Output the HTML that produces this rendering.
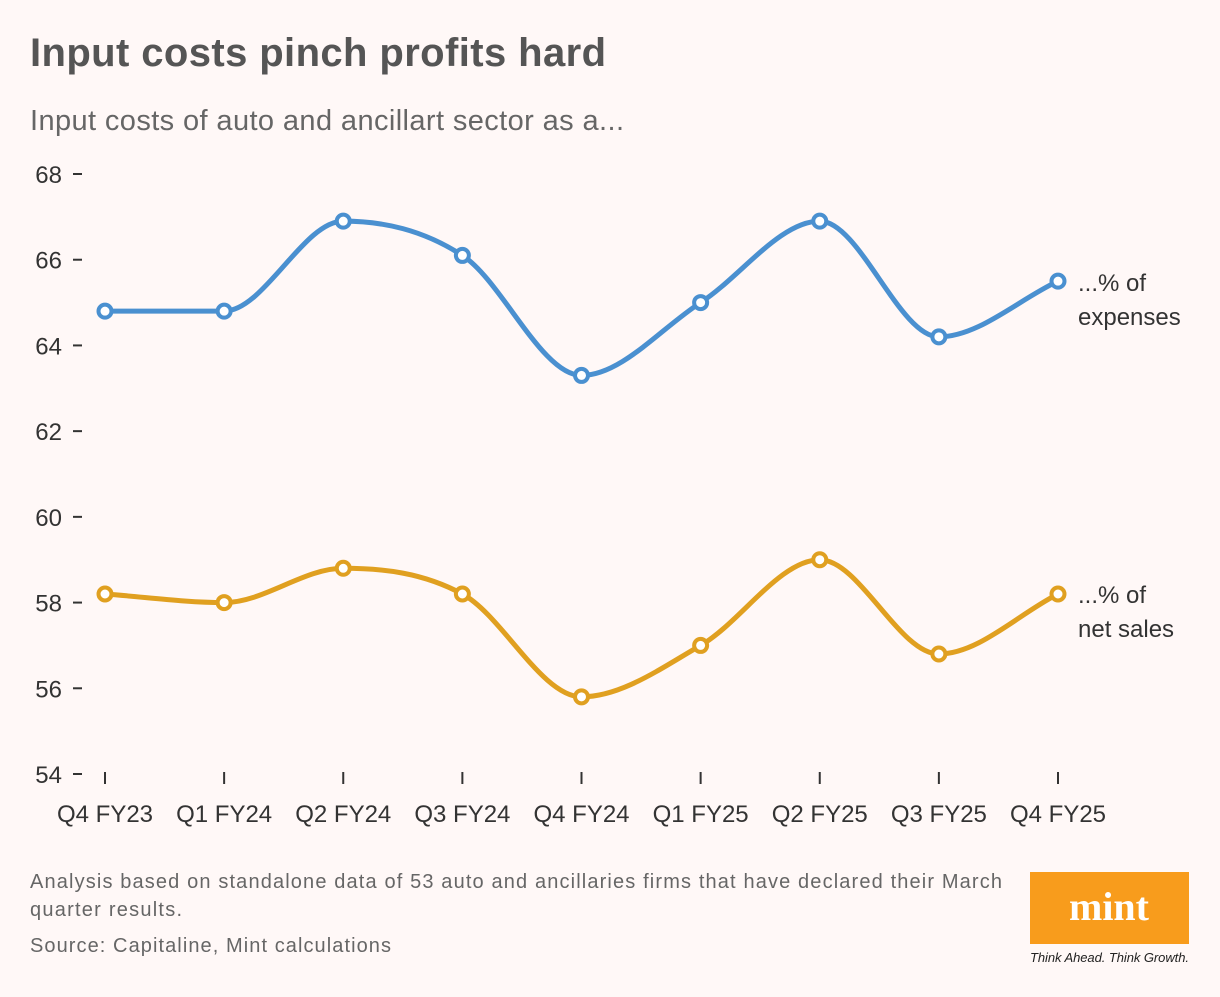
<!DOCTYPE html>
<html><head><meta charset="utf-8">
<style>
body{margin:0;background:#fff8f7;width:1220px;height:992px;overflow:hidden;font-family:"Liberation Sans",sans-serif;}
</style></head>
<body>
<svg width="1220" height="992" xmlns="http://www.w3.org/2000/svg">
<rect width="1220" height="992" fill="#fff8f7"/>
<text x="30" y="66" font-size="40" font-weight="bold" fill="#555" textLength="576">Input costs pinch profits hard</text>
<text x="30" y="130" font-size="29" fill="#666" textLength="594">Input costs of auto and ancillart sector as a...</text>
<g id="axes"></g>
<g id="series"></g>
<text x="1078" y="291" font-size="24" fill="#333">...% of</text>
<text x="1078" y="325" font-size="24" fill="#333">expenses</text>
<text x="1078" y="603" font-size="24" fill="#333">...% of</text>
<text x="1078" y="637" font-size="24" fill="#333">net sales</text>
<text x="30" y="888" font-size="20" fill="#666" textLength="972">Analysis based on standalone data of 53 auto and ancillaries firms that have declared their March</text>
<text x="30" y="916" font-size="20" fill="#666" textLength="152">quarter results.</text>
<text x="30" y="952" font-size="20" fill="#666" textLength="361">Source: Capitaline, Mint calculations</text>
<rect x="1030" y="872" width="159" height="72" fill="#f89c1c"/>
<text x="1109" y="920" font-size="40" font-weight="bold" font-family="Liberation Serif,serif" fill="#fff" text-anchor="middle">mint</text>
<text x="1030" y="962" font-size="13" font-style="italic" fill="#222" textLength="159">Think Ahead. Think Growth.</text>
</svg>
<script>
const categories=["Q4 FY23","Q1 FY24","Q2 FY24","Q3 FY24","Q4 FY24","Q1 FY25","Q2 FY25","Q3 FY25","Q4 FY25"];
const expenses=[64.8,64.8,66.9,66.1,63.3,65.0,66.9,64.2,65.5];
const netSales=[58.2,58.0,58.8,58.2,55.8,57.0,59.0,56.8,58.2];
const yTicks=[54,56,58,60,62,64,66,68];
const NS="http://www.w3.org/2000/svg";
function xS(i){return 105+i*(1058-105)/(categories.length-1);}
function yS(v){return 774-(v-54)*600/14;}
function mk(tag,attrs,parent){const e=document.createElementNS(NS,tag);for(const k in attrs)e.setAttribute(k,attrs[k]);parent.appendChild(e);return e;}
const axes=document.getElementById('axes'),ser=document.getElementById('series');
yTicks.forEach(t=>{
  const tx=mk('text',{x:62,y:yS(t)+9,'font-size':24,fill:'#333','text-anchor':'end'},axes);tx.textContent=t;
  
  
  mk('line',{x1:73,x2:82,y1:yS(t),y2:yS(t),stroke:'#333','stroke-width':2},axes);
});
categories.forEach((c,i)=>{
  mk('line',{x1:xS(i),x2:xS(i),y1:772,y2:784,stroke:'#333','stroke-width':2},axes);
  const tx=mk('text',{x:xS(i),y:822,'font-size':24,fill:'#333','text-anchor':'middle'},axes);tx.textContent=c;
  
  
});
function monotonePath(pts){
  const n=pts.length,d=[],m=[];
  for(let i=0;i<n-1;i++)d.push((pts[i+1][1]-pts[i][1])/(pts[i+1][0]-pts[i][0]));
  m[0]=d[0];m[n-1]=d[n-2];
  for(let i=1;i<n-1;i++){m[i]=(d[i-1]*d[i]<=0)?0:(d[i-1]+d[i])/2;}
  for(let i=0;i<n-1;i++){if(d[i]===0){m[i]=0;m[i+1]=0;continue;}const a=m[i]/d[i],b=m[i+1]/d[i],s=a*a+b*b;if(s>9){const t=3/Math.sqrt(s);m[i]=t*a*d[i];m[i+1]=t*b*d[i];}}
  let p='M'+pts[0][0]+','+pts[0][1];
  for(let i=0;i<n-1;i++){const h=(pts[i+1][0]-pts[i][0])/3;p+=' C'+(pts[i][0]+h)+','+(pts[i][1]+m[i]*h)+' '+(pts[i+1][0]-h)+','+(pts[i+1][1]-m[i+1]*h)+' '+pts[i+1][0]+','+pts[i+1][1];}
  return p;
}
function draw(vals,color,name){
  const pts=vals.map((v,i)=>[xS(i),yS(v)]);
  const p=mk('path',{d:monotonePath(pts),fill:'none',stroke:color,'stroke-width':5},ser);
  
  
  pts.forEach(q=>{
    const c=mk('circle',{cx:q[0],cy:q[1],r:6.5,fill:'#fff',stroke:color,'stroke-width':4},ser);
    
    
  });
}
draw(expenses,'#4a90d0','expenses');
draw(netSales,'#e0a020','net-sales');
</script>
</body></html>
